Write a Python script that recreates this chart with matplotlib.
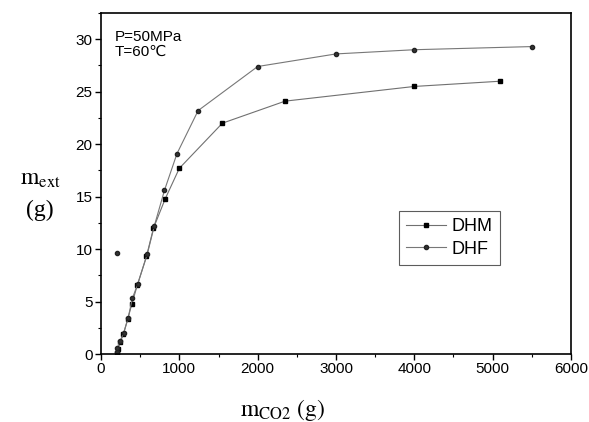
import matplotlib
matplotlib.use("Agg")
import matplotlib.pyplot as plt
from matplotlib.ticker import MultipleLocator
from matplotlib import font_manager

plt.rcParams['mathtext.fontset'] = 'stix'

names = {f.name for f in font_manager.fontManager.ttflist}
tick_family = 'Liberation Sans Narrow' if 'Liberation Sans Narrow' in names else 'Liberation Sans'

# data
dhm_x = [200, 215, 245, 285, 340, 395, 465, 580, 670, 820, 1000, 1550, 2350, 4000, 5100]
dhm_y = [0.1, 0.5, 1.1, 1.9, 3.3, 4.8, 6.6, 9.3, 12.0, 14.8, 17.7, 22.0, 24.1, 25.5, 26.0]
dhf_x = [200, 210, 240, 290, 345, 400, 470, 590, 680, 810, 970, 1240, 2000, 3000, 4000, 5500]
dhf_y = [0.2, 0.6, 1.2, 2.0, 3.4, 5.3, 6.7, 9.5, 12.2, 15.6, 19.1, 23.2, 27.4, 28.6, 29.0, 29.3]
stray_x = [210]
stray_y = [9.6]
x_ticks = [0, 1000, 2000, 3000, 4000, 5000, 6000]
y_ticks = [0, 5, 10, 15, 20, 25, 30]

fig = plt.figure(figsize=(5.89, 4.22), dpi=100)
ax = fig.add_axes([0.1715, 0.1611, 0.7979, 0.8081])

ax.plot(dhm_x, dhm_y, color='#707070', lw=0.8, marker='s', ms=2.8,
        mfc='black', mec='black', label='DHM')
ax.plot(dhf_x, dhf_y, color='#777777', lw=0.8, marker='o', ms=3.0,
        mfc='#333333', mec='#222222', label='DHF')
ax.plot(stray_x, stray_y, ls='none', marker='o', ms=3.0, mfc='#333333', mec='#222222')

ax.set_xlim(0, 6000)
ax.set_ylim(0, 32.5)
ax.set_xticks(x_ticks)
ax.set_yticks(y_ticks)
ax.xaxis.set_minor_locator(MultipleLocator(500))
ax.yaxis.set_minor_locator(MultipleLocator(2.5))
ax.tick_params(which='major', direction='out', length=4, width=1, labelsize=11, pad=2)
ax.tick_params(which='minor', direction='out', length=2.5, width=0.8)
for lab in ax.get_xticklabels() + ax.get_yticklabels():
    lab.set_fontfamily(tick_family)
for sp in ax.spines.values():
    sp.set_linewidth(1.2)

ax.text(0.03, 0.95, 'P=50MPa\nT=60\u2103', transform=ax.transAxes, fontsize=11,
        family=['Liberation Sans', 'DejaVu Sans'], va='top', ha='left', linespacing=1.1)

leg = ax.legend(loc='lower left', bbox_to_anchor=(0.615, 0.235),
                frameon=True, fancybox=False, edgecolor='#333333', handlelength=2.2,
                borderpad=0.4, labelspacing=0.3, handletextpad=0.3,
                prop={'family': tick_family, 'size': 13})
leg.get_frame().set_linewidth(0.8)

fig.text(40/589, 1 - 178/422, r'$\mathrm{m_{ext}}$', fontsize=17, ha='center', va='center')
fig.text(40/589, 1 - 210/422, '(g)', fontsize=17, family='Liberation Serif', ha='center', va='center')
fig.text(283/589, 1 - 410/422, r'$\mathrm{m_{CO2}\ (g)}$', fontsize=17, ha='center', va='center')

fig.savefig('out.png', dpi=100)
